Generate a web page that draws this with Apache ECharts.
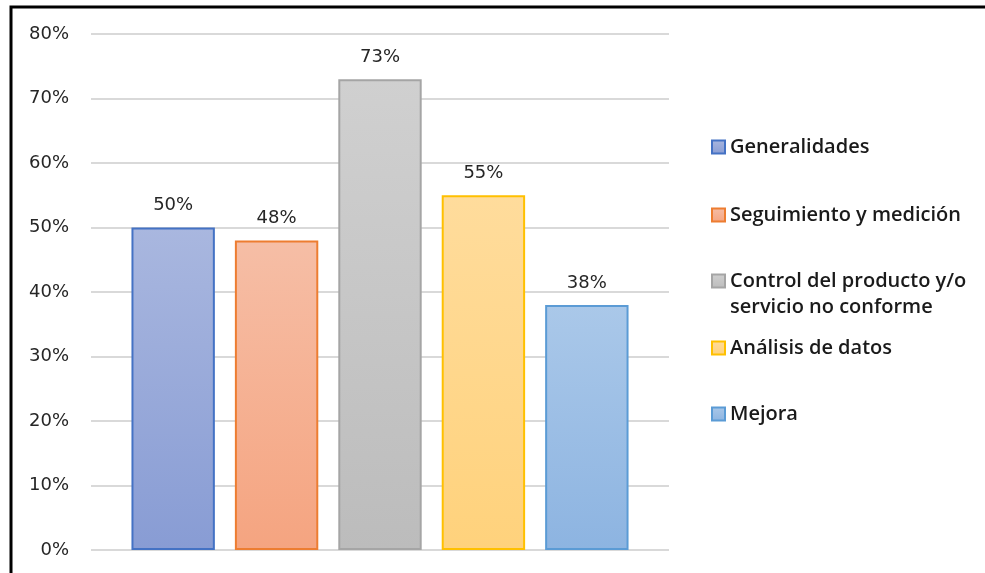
<!DOCTYPE html>
<html>
<head>
<meta charset="utf-8">
<script src="https://cdn.jsdelivr.net/npm/echarts@6/dist/echarts.min.js"></script>
<style>
  html, body { margin: 0; padding: 0; background: #ffffff; }
  #chart { width: 985px; height: 573px; }
</style>
</head>
<body>
<div id="chart"></div>
<script>
// Series (one bar each) and their percentage values
const seriesNames = [
  'Generalidades',
  'Seguimiento y medición',
  'Control del producto y/o\nservicio no conforme',
  'Análisis de datos',
  'Mejora'
];
const values = [50, 48, 73, 55, 38];

// Value axis ticks (percent)
const yMin = 0;
const yMax = 80;
const yStep = 10;

// Outline colour and top/bottom fill tones for each bar
const borderColors = ['#4472C4', '#ED7D31', '#A5A5A5', '#FFC000', '#5B9BD5'];
const fillTop = ['#a9b7df', '#f6bea6', '#d0d0d0', '#ffdc9c', '#aac8e9'];
const fillBottom = ['#889cd4', '#f5a480', '#bcbcbc', '#ffd27c', '#8db4e1'];

// Legend row positions (icon centre y) and text line height
const legendRows = [147, 215, 281, 348, 414];
const legendLine = 26;

const chart = echarts.init(document.getElementById('chart'), null, { renderer: 'canvas' });

const series = seriesNames.map((name, i) => ({
  name: name,
  type: 'bar',
  data: [values[i]],
  barGap: '24%',
  barCategoryGap: '14%',
  itemStyle: {
    color: {
      type: 'linear', x: 0, y: 0, x2: 0, y2: 1,
      colorStops: [
        { offset: 0, color: fillTop[i] },
        { offset: 1, color: fillBottom[i] }
      ]
    },
    borderColor: borderColors[i],
    borderWidth: 2
  },
  label: {
    show: true,
    position: 'top',
    distance: 13,
    formatter: '{c}%',
    fontFamily: 'DejaVu Sans',
    fontSize: 18,
    color: '#262626'
  }
}));

// One legend block per series so each row sits at its own height.
// A two-line name gets an empty leading line so its icon lines up
// with the first line of text.
const legends = seriesNames.map((name, i) => {
  const twoLines = name.indexOf('\n') >= 0;
  return {
    data: [name],
    orient: 'vertical',
    left: 711,
    top: legendRows[i] - (twoLines ? 1.5 : 0.5) * legendLine,
    icon: 'rect',
    itemWidth: 13,
    itemHeight: 13,
    padding: 0,
    selectedMode: false,
    formatter: n => (twoLines ? ' \n' + n : n),
    textStyle: {
      fontFamily: 'Open Sans',
      fontSize: 20,
      fontWeight: 600,
      color: '#1a1a1a',
      lineHeight: legendLine
    }
  };
});

chart.setOption({
  animation: false,
  backgroundColor: '#ffffff',
  grid: { left: 91, right: 316, top: 34, bottom: 23, containLabel: false },
  legend: legends,
  xAxis: {
    type: 'category',
    data: [''],
    axisLine: { show: false },
    axisTick: { show: false },
    axisLabel: { show: false }
  },
  yAxis: {
    type: 'value',
    min: yMin,
    max: yMax,
    interval: yStep,
    axisLine: { show: false },
    axisTick: { show: false },
    axisLabel: {
      formatter: '{value}%',
      margin: 22,
      fontFamily: 'DejaVu Sans',
      fontSize: 18,
      color: '#262626'
    },
    splitLine: { lineStyle: { color: '#d9d9d9', width: 2 } }
  },
  graphic: [
    {
      type: 'polyline',
      silent: true,
      shape: { points: [[11, 580], [11, 7], [990, 7]] },
      style: { stroke: '#000000', lineWidth: 3, fill: null }
    }
  ],
  series: series
});
</script>
</body>
</html>
